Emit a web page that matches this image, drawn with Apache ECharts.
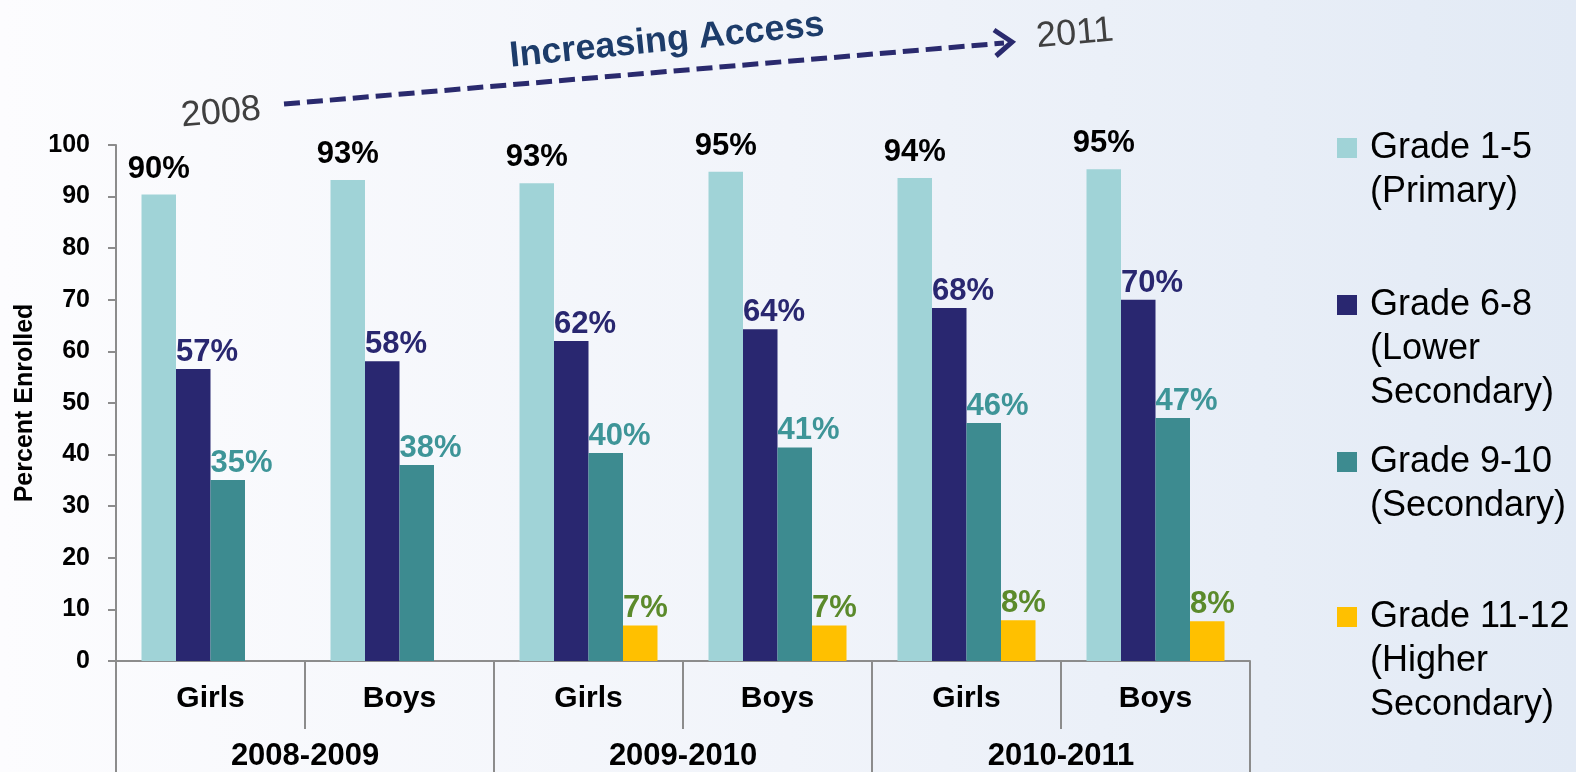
<!DOCTYPE html>
<html>
<head>
<meta charset="utf-8">
<script src="https://cdn.jsdelivr.net/npm/echarts@6/dist/echarts.min.js"></script>
<style>
    html, body { margin: 0; padding: 0; }
    #chart { width: 1576px; height: 772px; }
</style>
</head>
<body>
<div id="chart"></div>
<script>
// categories
const groups = ['Girls', 'Boys', 'Girls', 'Boys', 'Girls', 'Boys']
const years = ['2008-2009', '2009-2010', '2010-2011']

// percent enrolled per grade band
const primary = [90.4, 93.2, 92.6, 94.8, 93.6, 95.3]
const lowerSecondary = [56.6, 58.1, 62.0, 64.3, 68.4, 70.0]
const secondary = [35.1, 38.0, 40.3, 41.4, 46.1, 47.1]
const higherSecondary = ['-', '-', 6.9, 6.9, 7.9, 7.7]

const seriesNames = [
    'Grade 1-5\n(Primary)',
    'Grade 6-8\n(Lower\nSecondary)',
    'Grade 9-10\n(Secondary)',
    'Grade 11-12\n(Higher\nSecondary)'
]
const barColors = ['#a0d3d7', '#292770', '#3d8b90', '#ffc000']
const labelColors = ['#000000', '#292770', '#3e9598', '#5b8a2b']

const font = "'Liberation Sans', Arial, sans-serif"
const axisGray = '#8c8c8c'
const legendLine = 44

let myChart = echarts.init(document.getElementById('chart'))

function pct(p) {
    return Math.round(p.value) + '%'
}

function makeSeries(i, data) {
    let label = {
        show: true,
        formatter: pct,
        fontFamily: font,
        fontWeight: 'bold',
        fontSize: 31,
        color: labelColors[i]
    }
    if (i === 0) {
        label.position = 'top'
        label.distance = 10
    } else {
        // these sit flush with the left edge of the bar
        label.position = [0, -1]
        label.align = 'left'
        label.verticalAlign = 'bottom'
    }
    return {
        name: seriesNames[i],
        type: 'bar',
        data: data,
        barWidth: 34.5,
        barGap: 0,
        itemStyle: {color: barColors[i]},
        label: label
    }
}

// one legend per item so each can sit at its own height;
// the icon path keeps the square next to the first text line
const legendTops = [126, 283, 440, 595]
let legends = seriesNames.map((name, i) => {
    let h = name.split('\n').length * legendLine
    let sq = legendLine / 2 - 10
    return {
        data: [name],
        left: 1337,
        top: legendTops[i],
        padding: 0,
        icon: 'path://M0,0L28,0M0,' + sq + 'H20V' + (sq + 20) + 'H0Z' + 'M0,' + h + 'L28,' + h,
        itemWidth: 28,
        itemHeight: h,
        selectedMode: false,
        textStyle: {
            fontFamily: font,
            fontSize: 36,
            lineHeight: legendLine,
            color: '#000'
        }
    }
})

let option = {
    backgroundColor: {
        type: 'linear', x: 0, y: 0, x2: 1, y2: 0,
        colorStops: [
            {offset: 0, color: '#fcfcfe'},
            {offset: 0.5, color: '#f1f4fa'},
            {offset: 1, color: '#e2eaf5'}
        ]
    },
    legend: legends,
    grid: {
        left: 116,
        right: 326,
        top: 145,
        bottom: 111,
        containLabel: false
    },
    xAxis: [
        {
            type: 'category',
            data: groups,
            position: 'bottom',
            axisLine: {lineStyle: {color: axisGray, width: 2}},
            axisTick: {show: true, interval: 0, length: 68, lineStyle: {color: axisGray, width: 2}},
            axisLabel: {
                interval: 0,
                margin: 23,
                fontFamily: font,
                fontWeight: 'bold',
                fontSize: 30,
                color: '#000'
            }
        },
        {
            type: 'category',
            data: years,
            position: 'bottom',
            axisLine: {show: false},
            axisTick: {show: true, interval: 0, length: 120, lineStyle: {color: axisGray, width: 2}},
            axisLabel: {
                interval: 0,
                margin: 80,
                fontFamily: font,
                fontWeight: 'bold',
                fontSize: 31,
                color: '#000'
            }
        }
    ],
    yAxis: {
        type: 'value',
        min: 0,
        max: 100,
        interval: 10,
        name: 'Percent Enrolled',
        nameLocation: 'middle',
        nameRotate: 90,
        nameGap: 74,
        nameTextStyle: {
            fontFamily: font,
            fontWeight: 'bold',
            fontSize: 25,
            color: '#000'
        },
        axisLine: {show: true, lineStyle: {color: axisGray, width: 2}},
        axisTick: {show: true, length: 8, lineStyle: {color: axisGray, width: 2}},
        splitLine: {show: false},
        axisLabel: {
            margin: 26,
            fontFamily: font,
            fontWeight: 'bold',
            fontSize: 25,
            color: '#000'
        }
    },
    series: [
        makeSeries(0, primary),
        makeSeries(1, lowerSecondary),
        makeSeries(2, secondary),
        makeSeries(3, higherSecondary)
    ],
    // "Increasing Access" annotation above the plot
    graphic: [
        {
            type: 'line',
            shape: {x1: 284, y1: 104, x2: 1004, y2: 43},
            style: {stroke: '#2a2a6e', lineWidth: 5, lineDash: [16, 7]}
        },
        {
            type: 'polyline',
            shape: {points: [[994, 30], [1012, 42], [996, 56]]},
            style: {stroke: '#2a2a6e', lineWidth: 5, fill: null}
        },
        {
            type: 'text',
            x: 667, y: 41,
            rotation: 0.1,
            style: {
                text: 'Increasing Access',
                align: 'center',
                verticalAlign: 'middle',
                font: "bold 36px 'Liberation Sans', Arial, sans-serif",
                fill: '#1d3c6a'
            }
        },
        {
            type: 'text',
            x: 221, y: 113,
            rotation: 0.09,
            style: {
                text: '2008',
                align: 'center',
                verticalAlign: 'middle',
                font: "36px 'Liberation Sans', Arial, sans-serif",
                fill: '#404040'
            }
        },
        {
            type: 'text',
            x: 1075, y: 34,
            rotation: 0.09,
            style: {
                text: '2011',
                align: 'center',
                verticalAlign: 'middle',
                font: "36px 'Liberation Sans', Arial, sans-serif",
                fill: '#404040'
            }
        }
    ]
}

option && myChart.setOption(option)
</script>
</body>
</html>
